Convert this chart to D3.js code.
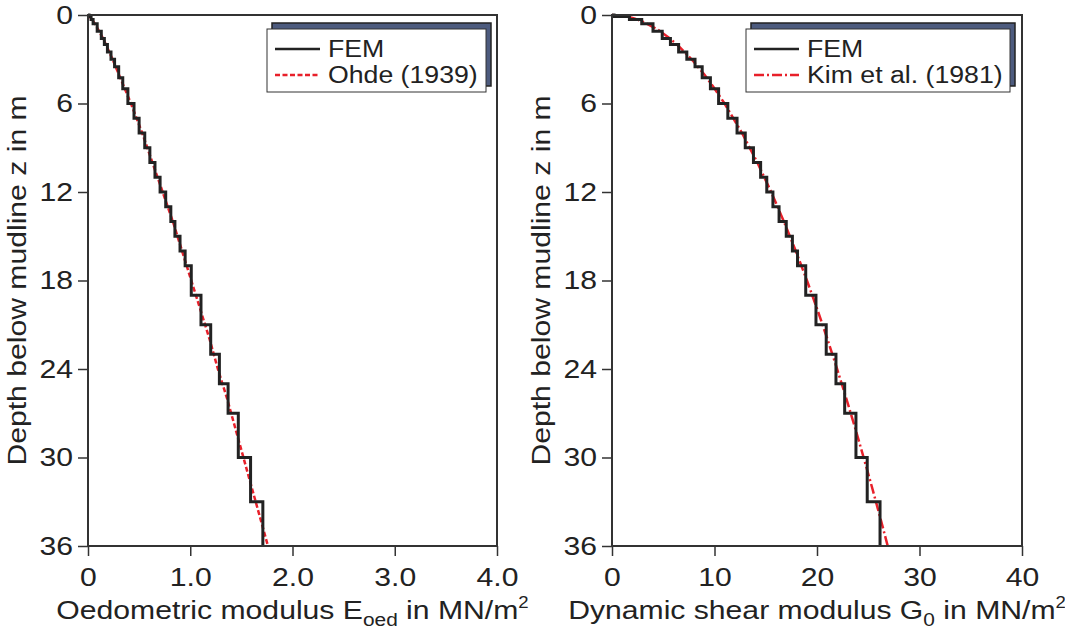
<!DOCTYPE html>
<html>
<head>
<meta charset="utf-8">
<script src="https://cdn.jsdelivr.net/npm/d3@7"></script>
<style>
  html, body { margin: 0; padding: 0; background: #fff; }
  svg { display: block; font-family: "Liberation Sans", Arial, sans-serif; }
</style>
</head>
<body>
<div id="chart"></div>
<script>
  // layer boundaries of the FEM model (depth in m)
  const layerBounds = [0, 0.1, 0.3, 0.6, 1.1, 1.6, 2.0, 2.5, 3.0, 3.5, 4.25, 5, 6, 7, 8, 9, 10, 11, 12, 13, 14, 15, 16, 17, 19, 21, 23, 25, 27, 30, 33, 36];
  const femEoed = [0.01, 0.03, 0.05, 0.09, 0.13, 0.16, 0.19, 0.225, 0.26, 0.30, 0.34, 0.39, 0.45, 0.50, 0.555, 0.605, 0.655, 0.705, 0.76, 0.81, 0.85, 0.90, 0.95, 1.01, 1.105, 1.20, 1.285, 1.37, 1.47, 1.59, 1.71];
  const femG0 = [0.2, 1.7, 2.9, 4.0, 4.9, 5.7, 6.5, 7.3, 8.1, 8.8, 9.6, 10.4, 11.3, 12.2, 13.0, 13.8, 14.5, 15.1, 15.7, 16.3, 17.0, 17.6, 18.1, 18.9, 19.9, 20.9, 21.85, 22.7, 23.8, 24.9, 26.15];

  const ohdeDepth = [0, 0.25, 0.5, 1, 1.5, 2, 3, 4, 5, 6, 8, 10, 12, 14, 16, 18, 20, 22, 24, 26, 28, 30, 32, 34, 36];
  const ohdeEoed = [0, 0.033, 0.058, 0.10, 0.14, 0.175, 0.24, 0.30, 0.36, 0.42, 0.53, 0.63, 0.73, 0.83, 0.92, 1.01, 1.10, 1.19, 1.27, 1.36, 1.44, 1.52, 1.60, 1.68, 1.76];

  const kimDepth = [0, 0.1, 0.25, 0.5, 1, 1.5, 2, 3, 4, 5, 6, 8, 10, 12, 14, 16, 18, 20, 22, 24, 26, 28, 30, 32, 34, 36];
  const kimG0 = [0, 1.42, 2.24, 3.17, 4.48, 5.49, 6.34, 7.76, 8.97, 10.02, 10.98, 12.68, 14.18, 15.53, 16.77, 17.93, 19.02, 20.05, 21.03, 21.96, 22.86, 23.72, 24.55, 25.36, 26.14, 26.90];

  const depthTicks = [0, 6, 12, 18, 24, 30, 36];
  const eoedTicks = [0, 1, 2, 3, 4];
  const g0Ticks = [0, 10, 20, 30, 40];

  const width = 1065;
  const height = 630;
  const textColor = "#222";
  const axisColor = "#333";
  const red = "#e8202a";
  const S = 1.16; // the original lettering is wider than Liberation Sans

  const svg = d3.select("#chart").append("svg").attr("width", width).attr("height", height);

  function stretch(sel) {
    sel.each(function () {
      const t = d3.select(this);
      const x = +t.attr("x") || 0;
      const prev = t.attr("transform") || "";
      t.attr("x", x / S).attr("transform", `${prev} scale(${S},1)`.trim());
    });
  }

  function stepPoints(values) {
    const pts = [];
    values.forEach((v, i) => {
      pts.push([v, layerBounds[i]]);
      pts.push([v, layerBounds[i + 1]]);
    });
    return [[0, 0]].concat(pts);
  }

  function drawPanel({ left, right, top, bottom, xMax, xTicks, xFormat, fem, refDepth, refValues, refDash, refLabel, legendX, legendW, xLabel, xSub }) {
    const x = d3.scaleLinear().domain([0, xMax]).range([left, right]);
    const y = d3.scaleLinear().domain([0, 36]).range([top, bottom]);
    const g = svg.append("g");

    // axes
    const xAxis = g.append("g")
      .attr("transform", `translate(0,${bottom})`)
      .call(d3.axisBottom(x).tickValues(xTicks).tickFormat(xFormat).tickSize(10).tickPadding(12));
    const yAxis = g.append("g")
      .attr("transform", `translate(${left},0)`)
      .call(d3.axisLeft(y).tickValues(depthTicks).tickSize(10).tickPadding(5));
    [xAxis, yAxis].forEach((a) => {
      a.select(".domain").remove();
      a.selectAll("line").attr("stroke", axisColor).attr("stroke-width", 1.5);
      a.selectAll("text").attr("fill", textColor).attr("font-size", 26).attr("font-family", "Liberation Sans, Arial, sans-serif").call(stretch);
    });

    const line = d3.line().x((d) => x(d[0])).y((d) => y(d[1]));

    // reference curve
    g.append("path")
      .attr("d", line(refDepth.map((d, i) => [refValues[i], d])))
      .attr("fill", "none")
      .attr("stroke", red)
      .attr("stroke-width", 2.5)
      .attr("stroke-dasharray", refDash);

    // FEM steps
    g.append("path")
      .attr("d", line(stepPoints(fem)))
      .attr("fill", "none")
      .attr("stroke", "#222")
      .attr("stroke-width", 3)
      .attr("stroke-linejoin", "miter");

    // frame
    g.append("rect")
      .attr("x", left).attr("y", top)
      .attr("width", right - left).attr("height", bottom - top)
      .attr("fill", "none").attr("stroke", axisColor).attr("stroke-width", 2);

    // legend with shadow
    const lgTop = 29, lgH = 63;
    g.append("rect")
      .attr("x", legendX + 5).attr("y", lgTop - 6)
      .attr("width", legendW).attr("height", lgH)
      .attr("fill", "#4d5b7e").attr("stroke", "#222").attr("stroke-width", 1.5);
    g.append("rect")
      .attr("x", legendX).attr("y", lgTop)
      .attr("width", legendW).attr("height", lgH)
      .attr("fill", "#fff").attr("stroke", "#333").attr("stroke-width", 1);
    g.append("line")
      .attr("x1", legendX + 8).attr("x2", legendX + 53)
      .attr("y1", 49).attr("y2", 49)
      .attr("stroke", "#222").attr("stroke-width", 2.5);
    g.append("line")
      .attr("x1", legendX + 8).attr("x2", legendX + 53)
      .attr("y1", 75).attr("y2", 75)
      .attr("stroke", red).attr("stroke-width", 2.5)
      .attr("stroke-dasharray", refDash);
    g.append("text").attr("x", legendX + 61).attr("y", 57)
      .attr("font-size", 23).attr("fill", textColor).text("FEM").call(stretch);
    g.append("text").attr("x", legendX + 61).attr("y", 83)
      .attr("font-size", 23).attr("fill", textColor).text(refLabel).call(stretch);

    // axis titles
    const xt = g.append("text")
      .attr("x", (left + right) / 2).attr("y", 619)
      .attr("text-anchor", "middle").attr("font-size", 26).attr("fill", textColor);
    xt.append("tspan").text(xLabel[0]);
    xt.append("tspan").attr("font-size", 18).attr("dy", 7).text(xSub);
    xt.append("tspan").attr("dy", -7).text(xLabel[1]);
    xt.append("tspan").attr("font-size", 16).attr("dy", -11).text("2");
    xt.call(stretch);

    g.append("text")
      .attr("transform", `translate(${left - 62},${(top + bottom) / 2}) rotate(-90)`)
      .attr("text-anchor", "middle").attr("font-size", 26).attr("fill", textColor)
      .text("Depth below mudline z in m")
      .call(stretch);
  }

  drawPanel({
    left: 88, right: 497, top: 15, bottom: 546,
    xMax: 4, xTicks: eoedTicks, xFormat: (d) => (d === 0 ? "0" : d3.format(".1f")(d)),
    fem: femEoed, refDepth: ohdeDepth, refValues: ohdeEoed, refDash: "5,2.5",
    refLabel: "Ohde (1939)", legendX: 267, legendW: 219,
    xLabel: ["Oedometric modulus E", " in MN/m"], xSub: "oed",
  });

  drawPanel({
    left: 612, right: 1022, top: 15, bottom: 546,
    xMax: 40, xTicks: g0Ticks, xFormat: d3.format("d"),
    fem: femG0, refDepth: kimDepth, refValues: kimG0, refDash: "10,3,2,3",
    refLabel: "Kim et al. (1981)", legendX: 746, legendW: 264,
    xLabel: ["Dynamic shear modulus G", " in MN/m"], xSub: "0",
  });
</script>
</body>
</html>
